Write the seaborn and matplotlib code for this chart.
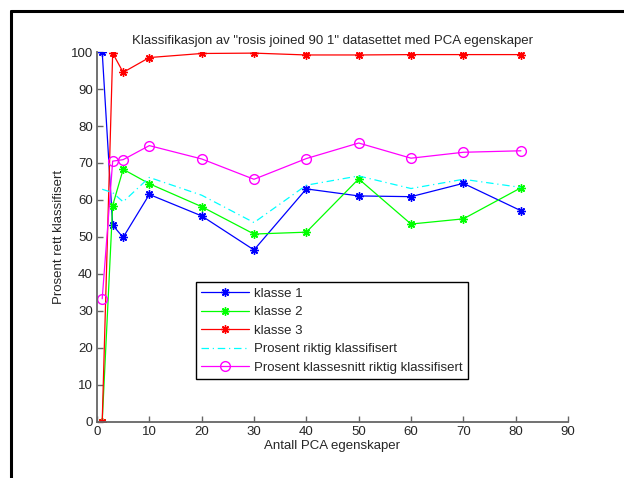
import matplotlib
matplotlib.use("Agg")
import matplotlib.pyplot as plt
from matplotlib.lines import Line2D
import seaborn as sns
import pandas as pd

# Number of PCA components used
n_components = [1, 3, 5, 10, 20, 30, 40, 50, 60, 70, 81]

# Per-class accuracy (%)
klasse_1 = [100.0, 53.2, 49.9, 61.5, 55.7, 46.5, 63.0, 61.1, 60.9, 64.5, 57.1]
klasse_2 = [0.0, 58.5, 68.3, 64.4, 58.2, 50.8, 51.3, 65.7, 53.5, 54.9, 63.3]
klasse_3 = [0.0, 99.7, 94.5, 98.5, 99.6, 99.7, 99.2, 99.2, 99.3, 99.3, 99.3]

# Overall accuracy and mean class accuracy (%)
riktig = [62.9, 62.0, 59.5, 66.1, 61.3, 53.9, 64.0, 66.5, 63.1, 65.6, 63.4]
klassesnitt = [33.3, 70.5, 70.9, 74.7, 71.1, 65.6, 71.2, 75.4, 71.3, 72.9, 73.3]

labels = ["klasse 1", "klasse 2", "klasse 3",
          "Prosent riktig klassifisert",
          "Prosent klassesnitt riktig klassifisert"]

title = 'Klassifikasjon av "rosis joined 90 1" datasettet med PCA egenskaper'
xlabel = "Antall PCA egenskaper"
ylabel = "Prosent rett klassifisert"

sns.set_theme(style="white")
plt.rcParams["font.family"] = ["Liberation Sans", "DejaVu Sans"]
plt.rcParams["font.size"] = 9.5

fig = plt.figure(figsize=(6.24, 4.78), dpi=100)
ax = fig.add_axes([0.1554, 0.1172, 0.7549, 0.7740])

asterisk = (8, 2, 0)
styles = [
    dict(color="#0000FF", marker=asterisk, markersize=6, linestyle="-"),
    dict(color="#00FF00", marker=asterisk, markersize=6, linestyle="-"),
    dict(color="#FF0000", marker=asterisk, markersize=6, linestyle="-"),
    dict(color="#00FFFF", marker=None, linestyle=(0, (6, 3, 1, 3))),
    dict(color="#FF00FF", marker="o", markersize=7, markerfacecolor="none",
         linestyle="-"),
]
series = [klasse_1, klasse_2, klasse_3, riktig, klassesnitt]

for vals, lab, st in zip(series, labels, styles):
    df = pd.DataFrame({"x": n_components, "y": vals})
    kw = dict(st)
    color = kw.pop("color")
    ls = kw.pop("linestyle")
    marker = kw.pop("marker")
    extra = {}
    if marker is not None:
        extra["marker"] = marker
        extra["markeredgecolor"] = color
        extra["markeredgewidth"] = 1.0
    extra.update(kw)
    sns.lineplot(data=df, x="x", y="y", ax=ax, color=color, linewidth=0.9,
                 linestyle=ls, label=lab, estimator=None, sort=False,
                 **extra)

ax.set_xlim(0, 90)
ax.set_ylim(0, 100)
ax.set_xticks(range(0, 91, 10))
ax.set_yticks(range(0, 101, 10))
ax.tick_params(direction="in", length=4, width=1, color="#666666",
               labelsize=9.5, pad=3, left=True, bottom=True)
for side in ["top", "right"]:
    ax.spines[side].set_visible(False)
for side in ["left", "bottom"]:
    ax.spines[side].set_color("#666666")
    ax.spines[side].set_linewidth(1.3)

ax.set_title(title, fontsize=9.5, pad=6)
ax.set_xlabel(xlabel, fontsize=9.5, labelpad=1)
ax.set_ylabel(ylabel, fontsize=9.5, labelpad=4)

leg = ax.legend(loc="upper left", bbox_to_anchor=(0.210, 0.378),
                frameon=True, fancybox=False, framealpha=1,
                edgecolor="black", fontsize=9.5, handlelength=3.6,
                handletextpad=0.4, borderpad=0.4, labelspacing=0.48,
                borderaxespad=0)
leg.get_frame().set_linewidth(1.0)

# Outer figure frame (top and left edges)
fig.add_artist(Line2D([10.5 / 624, 1.0], [1 - 10.5 / 478, 1 - 10.5 / 478],
                      transform=fig.transFigure, color="black", linewidth=2.2))
fig.add_artist(Line2D([10.5 / 624, 10.5 / 624], [0.0, 1 - 10.5 / 478],
                      transform=fig.transFigure, color="black", linewidth=2.2))

fig.savefig("out.png", dpi=100)
